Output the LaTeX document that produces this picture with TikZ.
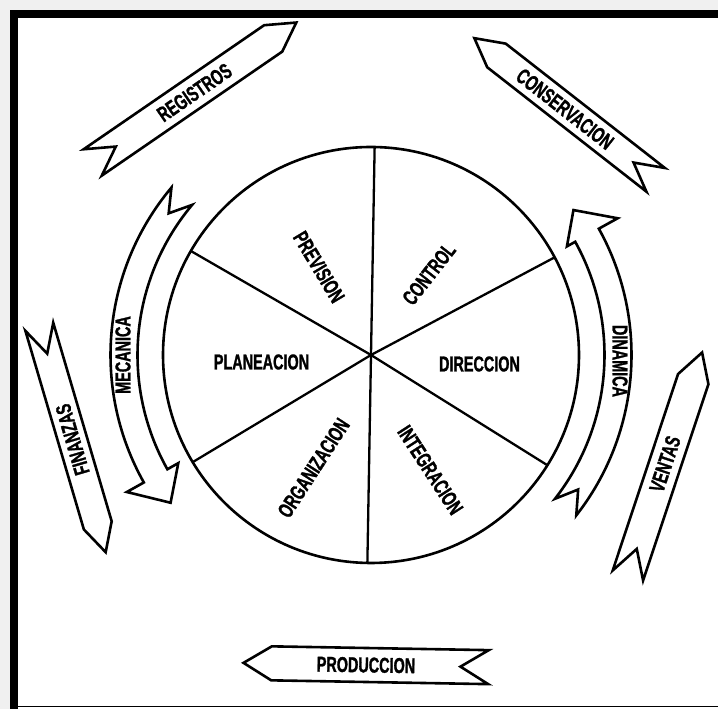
\documentclass[tikz,border=0pt]{standalone}
\usepackage{fontspec}
\newfontfamily\condfont{Liberation Sans}[FakeStretch=0.67, FakeBold=1.2]
\newcommand\bannerdraw[7]{%
  \draw[ln, shift={#1}, rotate=#2, xscale=#5]
    ({-#3/2},{#4/2}) -- ({#3/2-28},{#4/2}) -- ({#3/2},0) -- ({#3/2-28},{-#4/2})
    -- ({-#3/2},{-#4/2}) -- ({-#3/2+28},0) -- cycle;
  \node[lbl, rotate=#2] (#6) at #1 {#7};}
\begin{document}
\begin{tikzpicture}[x=1pt,y=1pt, line join=miter,
  ln/.style={line width=2.6pt},
  sec/.style={line width=2.3pt},
  lbl/.style={font=\condfont\bfseries\fontsize{21.5}{22}\selectfont, inner sep=0pt}]
\useasboundingbox (0,0) rectangle (718,709);
\fill[white] (0,0) rectangle (718,709);
\fill[black!6] (0,699) rectangle (718,709);
\fill[black!6] (0,0) rectangle (10,709);
% frame
\fill[black] (10,691) rectangle (718,699);
\fill[black] (10,0) rectangle (18,699);
\draw[line width=1.5pt] (18,2.5) -- (718,2.5);
% wheel
\coordinate (O) at (371,354);
\draw[ln] (O) circle[radius=208];
\foreach \a/\n in {89/t,28/ur,-32/lr,-91/b,211/ll,150/ul}{
  \path (O) ++(\a:208) coordinate (r\n);
  \draw[sec] (O) -- (r\n);
}
\node[lbl, rotate=-59] (prev) at (319,442) {PREVISION};
\node[lbl, rotate=52] (ctrl) at (429,435) {CONTROL};
\node[lbl] (plan) at (261.5,347) {PLANEACION};
\node[lbl] (dir) at (479.5,345) {DIRECCION};
\node[lbl, rotate=57] (org) at (313.6,241) {ORGANIZACION};
\node[lbl, rotate=-57] (integ) at (430.4,239) {INTEGRACION};
% curved arrows
\draw[ln, shift={(O)}] (140:260.5) arc[start angle=140, end angle=209.3, radius=260.5]
  -- (209.3:280) -- (216.4:249) -- (209.3:221) -- (209.3:233.5)
  arc[start angle=209.3, end angle=140, radius=233.5] -- (145:247) -- cycle;
\node[lbl, rotate=90] (mec) at (123,354) {MECANICA};
\draw[ln, shift={(O)}] (-38:260.5) arc[start angle=-38, end angle=29, radius=260.5]
  -- (29:282) -- (35.6:249) -- (29:224) -- (29:233.5)
  arc[start angle=29, end angle=-38, radius=233.5] -- (-33:247) -- cycle;
\node[lbl, rotate=-90] (din) at (620,348) {DINAMICA};
% banners
\bannerdraw{(194.5,616.5)}{34.5}{247}{32}{1}{reg}{REGISTROS}
\bannerdraw{(565,600)}{-38}{230}{30}{-1}{cons}{CONSERVACION}
\bannerdraw{(72.5,269.5)}{106.4}{235}{29}{-1}{fin}{FINANZAS}
\bannerdraw{(665,245)}{71.6}{235}{32}{1}{ven}{VENTAS}
\bannerdraw{(366,44)}{-1}{245}{34}{-1}{prod}{PRODUCCION}
\end{tikzpicture}
\end{document}
